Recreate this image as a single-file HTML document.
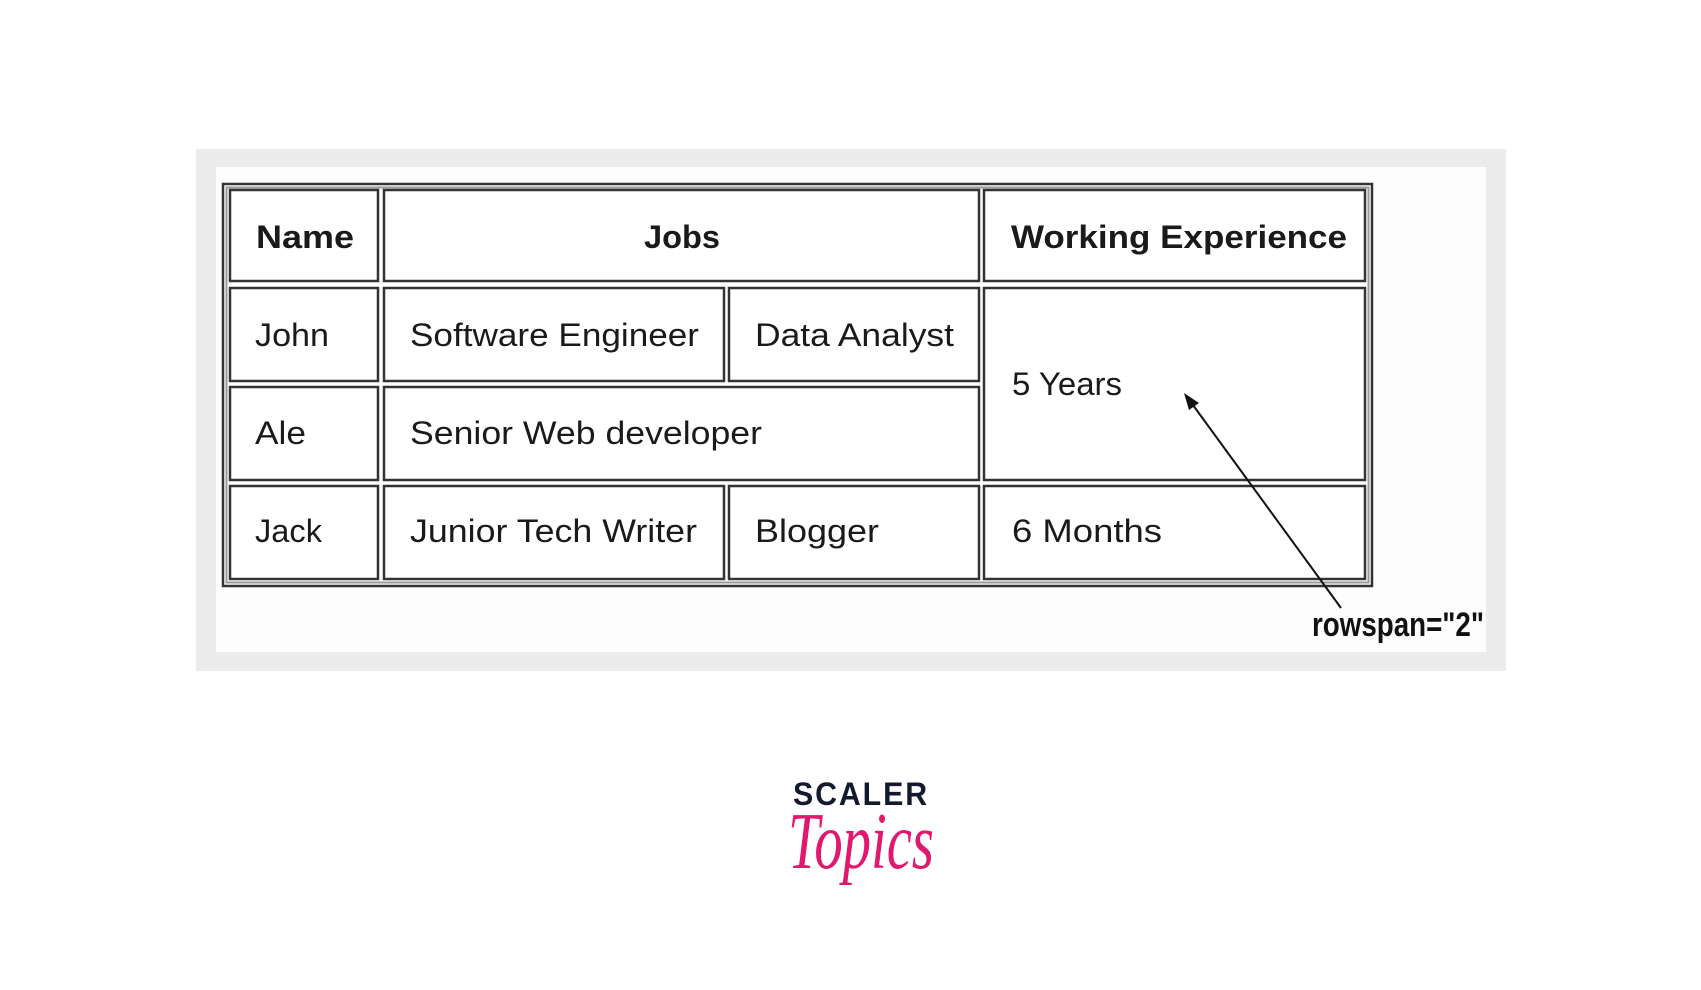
<!DOCTYPE html>
<html><head><meta charset="utf-8"><style>
html,body{margin:0;padding:0;background:#fff;}
svg{display:block;}
</style></head><body>
<svg width="1701" height="990" viewBox="0 0 1701 990" xmlns="http://www.w3.org/2000/svg">
<rect x="196" y="149" width="1310" height="522" fill="#ececed"/>
<rect x="216" y="167" width="1270" height="485" fill="#fdfdfd"/>
<rect x="223" y="184" width="1149" height="402" fill="#fff" stroke="#333" stroke-width="2.5"/>
<rect x="226.5" y="187.5" width="1142" height="395" fill="none" stroke="#999" stroke-width="2"/>
<g fill="#fff" stroke="#333" stroke-width="2.5">
<rect x="230" y="190" width="148" height="91"/>
<rect x="384" y="190" width="595" height="91"/>
<rect x="984" y="190" width="381" height="91"/>
<rect x="230" y="288" width="148" height="93"/>
<rect x="384" y="288" width="340" height="93"/>
<rect x="729" y="288" width="250" height="93"/>
<rect x="984" y="288" width="381" height="192"/>
<rect x="230" y="387" width="148" height="93"/>
<rect x="384" y="387" width="595" height="93"/>
<rect x="230" y="486" width="148" height="93"/>
<rect x="384" y="486" width="340" height="93"/>
<rect x="729" y="486" width="250" height="93"/>
<rect x="984" y="486" width="381" height="93"/>
</g>
<g font-family="Liberation Sans, sans-serif" font-size="32" fill="#1a1a1a">
<text x="256" y="248" font-weight="bold" textLength="98" lengthAdjust="spacingAndGlyphs">Name</text>
<text x="644" y="248" font-weight="bold" textLength="76" lengthAdjust="spacingAndGlyphs">Jobs</text>
<text x="1011" y="248" font-weight="bold" textLength="336" lengthAdjust="spacingAndGlyphs">Working Experience</text>
<text x="255" y="346" textLength="74" lengthAdjust="spacingAndGlyphs">John</text>
<text x="410" y="346" textLength="289" lengthAdjust="spacingAndGlyphs">Software Engineer</text>
<text x="755" y="346" textLength="199" lengthAdjust="spacingAndGlyphs">Data Analyst</text>
<text x="1012" y="395" textLength="110" lengthAdjust="spacingAndGlyphs">5 Years</text>
<text x="255" y="444" textLength="51" lengthAdjust="spacingAndGlyphs">Ale</text>
<text x="410" y="444" textLength="352" lengthAdjust="spacingAndGlyphs">Senior Web developer</text>
<text x="255" y="542" textLength="67" lengthAdjust="spacingAndGlyphs">Jack</text>
<text x="410" y="542" textLength="287" lengthAdjust="spacingAndGlyphs">Junior Tech Writer</text>
<text x="755" y="542" textLength="124" lengthAdjust="spacingAndGlyphs">Blogger</text>
<text x="1012" y="542" textLength="150" lengthAdjust="spacingAndGlyphs">6 Months</text>
</g>
<line x1="1341" y1="608" x2="1190" y2="401" stroke="#111" stroke-width="2"/>
<polygon points="1184,393 1199,403 1189,410" fill="#111"/>
<text x="1312" y="636" font-family="Liberation Sans Narrow, Liberation Sans, sans-serif" font-weight="bold" font-size="34" fill="#111" textLength="172" lengthAdjust="spacingAndGlyphs">rowspan="2"</text>
<text x="793" y="805" font-family="Liberation Sans, sans-serif" font-weight="bold" font-size="32" fill="#141a2e" textLength="136" lengthAdjust="spacingAndGlyphs" letter-spacing="2">SCALER</text>
<text x="788" y="868" font-family="Liberation Serif, serif" font-style="italic" font-size="80" fill="#e0196e" textLength="146" lengthAdjust="spacingAndGlyphs">Topics</text>
</svg>
</body></html>
